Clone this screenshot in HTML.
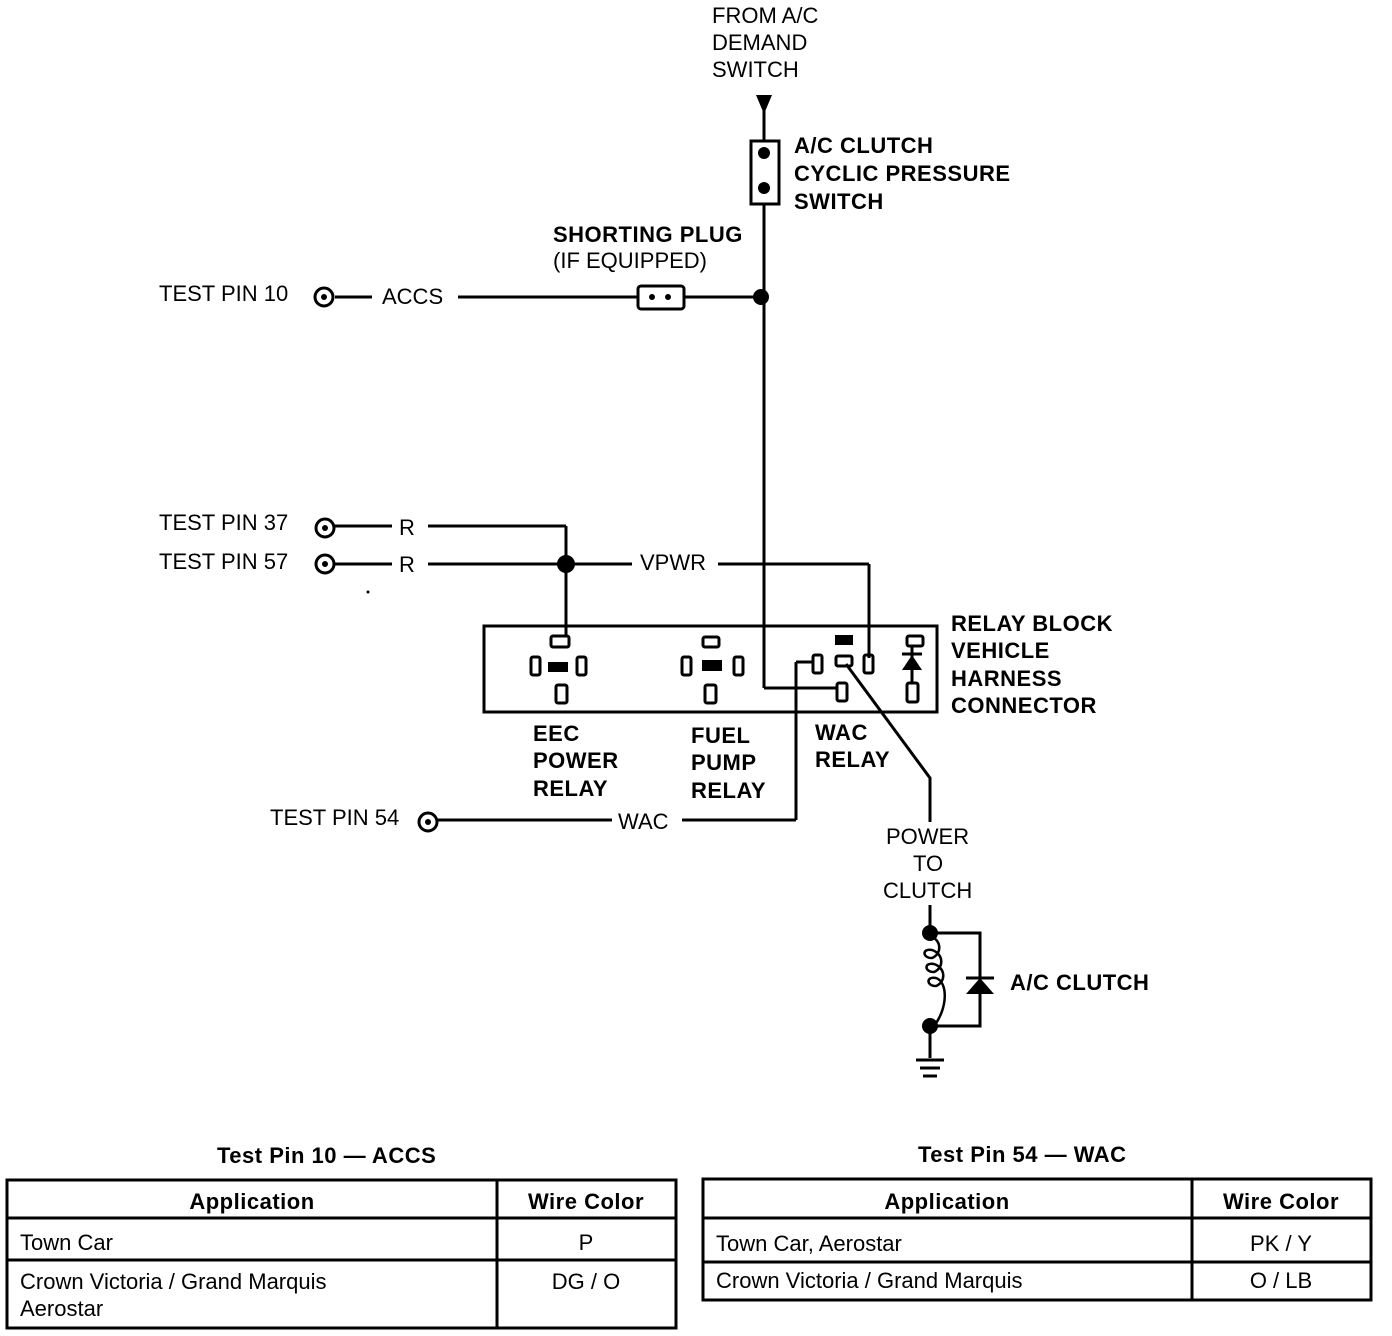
<!DOCTYPE html>
<html><head><meta charset="utf-8"><style>
body{margin:0;background:#fff}
svg{display:block}
text{font-family:"Liberation Sans",sans-serif;fill:#000;font-size:22px}
.b{font-weight:bold;letter-spacing:0.5px}
</style></head><body>
<svg width="1392" height="1336" viewBox="0 0 1392 1336" xmlns="http://www.w3.org/2000/svg">
<g stroke="#000" stroke-width="3" fill="none">
<line x1="764" y1="95" x2="764" y2="688"/>
<line x1="764" y1="688" x2="838" y2="688"/>
<rect x="751" y="141" width="28" height="63" fill="#fff"/>
<line x1="335" y1="297" x2="372" y2="297"/>
<line x1="458" y1="297" x2="761" y2="297"/>
<rect x="638" y="286" width="46" height="23" rx="3" fill="#fff"/>
<circle cx="324" cy="297" r="9"/>
<circle cx="325" cy="528" r="9"/>
<circle cx="325" cy="564" r="9"/>
<line x1="335" y1="526" x2="392" y2="526"/>
<line x1="335" y1="564" x2="392" y2="564"/>
<line x1="428" y1="526" x2="566" y2="526"/>
<line x1="566" y1="526" x2="566" y2="636"/>
<line x1="428" y1="564" x2="632" y2="564"/>
<line x1="718" y1="564" x2="869" y2="564"/>
<line x1="869" y1="564" x2="869" y2="658"/>
<rect x="484" y="626" width="453" height="86"/>
<rect x="551" y="636" width="18" height="11" rx="2"/>
<rect x="531" y="657" width="9" height="18" rx="2"/>
<rect x="577" y="657" width="9" height="18" rx="2"/>
<rect x="556" y="685" width="11" height="18" rx="2"/>
<rect x="703" y="637" width="16" height="10" rx="2"/>
<rect x="682" y="657" width="9" height="18" rx="2"/>
<rect x="734" y="657" width="9" height="18" rx="2"/>
<rect x="705" y="685" width="11" height="18" rx="2"/>
<rect x="813" y="655" width="9" height="18" rx="2"/>
<rect x="836" y="656" width="16" height="10" rx="2"/>
<rect x="864" y="655" width="9" height="18" rx="2"/>
<rect x="837" y="683" width="10" height="18" rx="2"/>
<rect x="907" y="636" width="16" height="10" rx="2"/>
<line x1="912" y1="646" x2="912" y2="683"/>
<line x1="902" y1="654" x2="922" y2="654"/>
<rect x="907" y="683" width="11" height="19" rx="2"/>
<circle cx="428" cy="822" r="9"/>
<line x1="438" y1="820" x2="612" y2="820"/>
<line x1="682" y1="820" x2="796" y2="820"/>
<line x1="796" y1="820" x2="796" y2="662"/>
<line x1="796" y1="662" x2="813" y2="662"/>
<polyline points="846,664 930,778 930,822"/>
<line x1="930" y1="905" x2="930" y2="933"/>
<polyline points="930,933 980,933 980,1026 930,1026"/>
<path d="M930 936 c12 4 12 18 2 22 c-10 0 -10 -10 0 -8 c12 4 12 18 2 22 c-10 0 -10 -10 0 -8 c12 4 12 18 2 22 c-10 0 -10 -10 0 -8 c12 4 12 30 -2 48" stroke-width="2.5"/>
<line x1="930" y1="1026" x2="930" y2="1058"/>
<line x1="916" y1="1060" x2="944" y2="1060"/>
<line x1="920" y1="1068" x2="940" y2="1068"/>
<line x1="923" y1="1076" x2="937" y2="1076"/>
<line x1="966" y1="978" x2="994" y2="978"/>
<rect x="7" y="1180" width="669" height="148"/>
<line x1="7" y1="1218" x2="676" y2="1218"/>
<line x1="7" y1="1260" x2="676" y2="1260"/>
<line x1="497" y1="1180" x2="497" y2="1328"/>
<rect x="703" y="1179" width="668" height="121"/>
<line x1="703" y1="1218" x2="1371" y2="1218"/>
<line x1="703" y1="1262" x2="1371" y2="1262"/>
<line x1="1192" y1="1179" x2="1192" y2="1300"/>
</g>
<g fill="#000">
<polygon points="756,95 772,95 764,114"/>
<circle cx="764" cy="153" r="6"/><circle cx="764" cy="188" r="6"/>
<circle cx="761" cy="297" r="8"/>
<circle cx="652" cy="297" r="3"/><circle cx="668" cy="297" r="3"/>
<circle cx="324" cy="297" r="3"/><circle cx="325" cy="528" r="3"/><circle cx="325" cy="564" r="3"/><circle cx="428" cy="822" r="3"/>
<circle cx="566" cy="564" r="9"/>
<rect x="548" y="662" width="20" height="10"/>
<rect x="702" y="660" width="20" height="11"/>
<rect x="835" y="635" width="18" height="10"/>
<polygon points="902,670 922,670 912,655"/>
<circle cx="930" cy="933" r="8"/><circle cx="930" cy="1026" r="8"/>
<polygon points="966,994 994,994 980,978"/>
<circle cx="368" cy="592" r="1.5"/>
</g>
<text x="712" y="23">FROM A/C</text>
<text x="712" y="50">DEMAND</text>
<text x="712" y="77">SWITCH</text>
<text class="b" x="794" y="153">A/C CLUTCH</text>
<text class="b" x="794" y="181">CYCLIC PRESSURE</text>
<text class="b" x="794" y="209">SWITCH</text>
<text class="b" x="553" y="242">SHORTING PLUG</text>
<text x="553" y="268">(IF EQUIPPED)</text>
<text x="159" y="301">TEST PIN 10</text>
<text x="382" y="304">ACCS</text>
<text x="159" y="530">TEST PIN 37</text>
<text x="159" y="569">TEST PIN 57</text>
<text x="399" y="535">R</text>
<text x="399" y="572">R</text>
<text x="640" y="570">VPWR</text>
<text class="b" x="951" y="631">RELAY BLOCK</text>
<text class="b" x="951" y="658">VEHICLE</text>
<text class="b" x="951" y="686">HARNESS</text>
<text class="b" x="951" y="713">CONNECTOR</text>
<text class="b" x="533" y="741">EEC</text>
<text class="b" x="533" y="768">POWER</text>
<text class="b" x="533" y="796">RELAY</text>
<text class="b" x="691" y="743">FUEL</text>
<text class="b" x="691" y="770">PUMP</text>
<text class="b" x="691" y="798">RELAY</text>
<text class="b" x="815" y="740">WAC</text>
<text class="b" x="815" y="767">RELAY</text>
<text x="270" y="825">TEST PIN 54</text>
<text x="618" y="829">WAC</text>
<text x="886" y="844">POWER</text>
<text x="913" y="871">TO</text>
<text x="883" y="898">CLUTCH</text>
<text class="b" x="1010" y="990">A/C CLUTCH</text>
<text class="b" x="217" y="1163">Test Pin 10 — ACCS</text>
<text class="b" x="918" y="1162">Test Pin 54 — WAC</text>
<text class="b" x="252" y="1209" text-anchor="middle" font-size="20">Application</text>
<text class="b" x="586" y="1209" text-anchor="middle" font-size="20">Wire Color</text>
<text x="20" y="1250" font-size="20">Town Car</text>
<text x="586" y="1250" text-anchor="middle" font-size="20">P</text>
<text x="20" y="1289" font-size="20">Crown Victoria / Grand Marquis</text>
<text x="20" y="1316" font-size="20">Aerostar</text>
<text x="586" y="1289" text-anchor="middle" font-size="20">DG / O</text>
<text class="b" x="947" y="1209" text-anchor="middle" font-size="20">Application</text>
<text class="b" x="1281" y="1209" text-anchor="middle" font-size="20">Wire Color</text>
<text x="716" y="1251" font-size="20">Town Car, Aerostar</text>
<text x="1281" y="1251" text-anchor="middle" font-size="20">PK / Y</text>
<text x="716" y="1288" font-size="20">Crown Victoria / Grand Marquis</text>
<text x="1281" y="1288" text-anchor="middle" font-size="20">O / LB</text>
</svg>
</body></html>
